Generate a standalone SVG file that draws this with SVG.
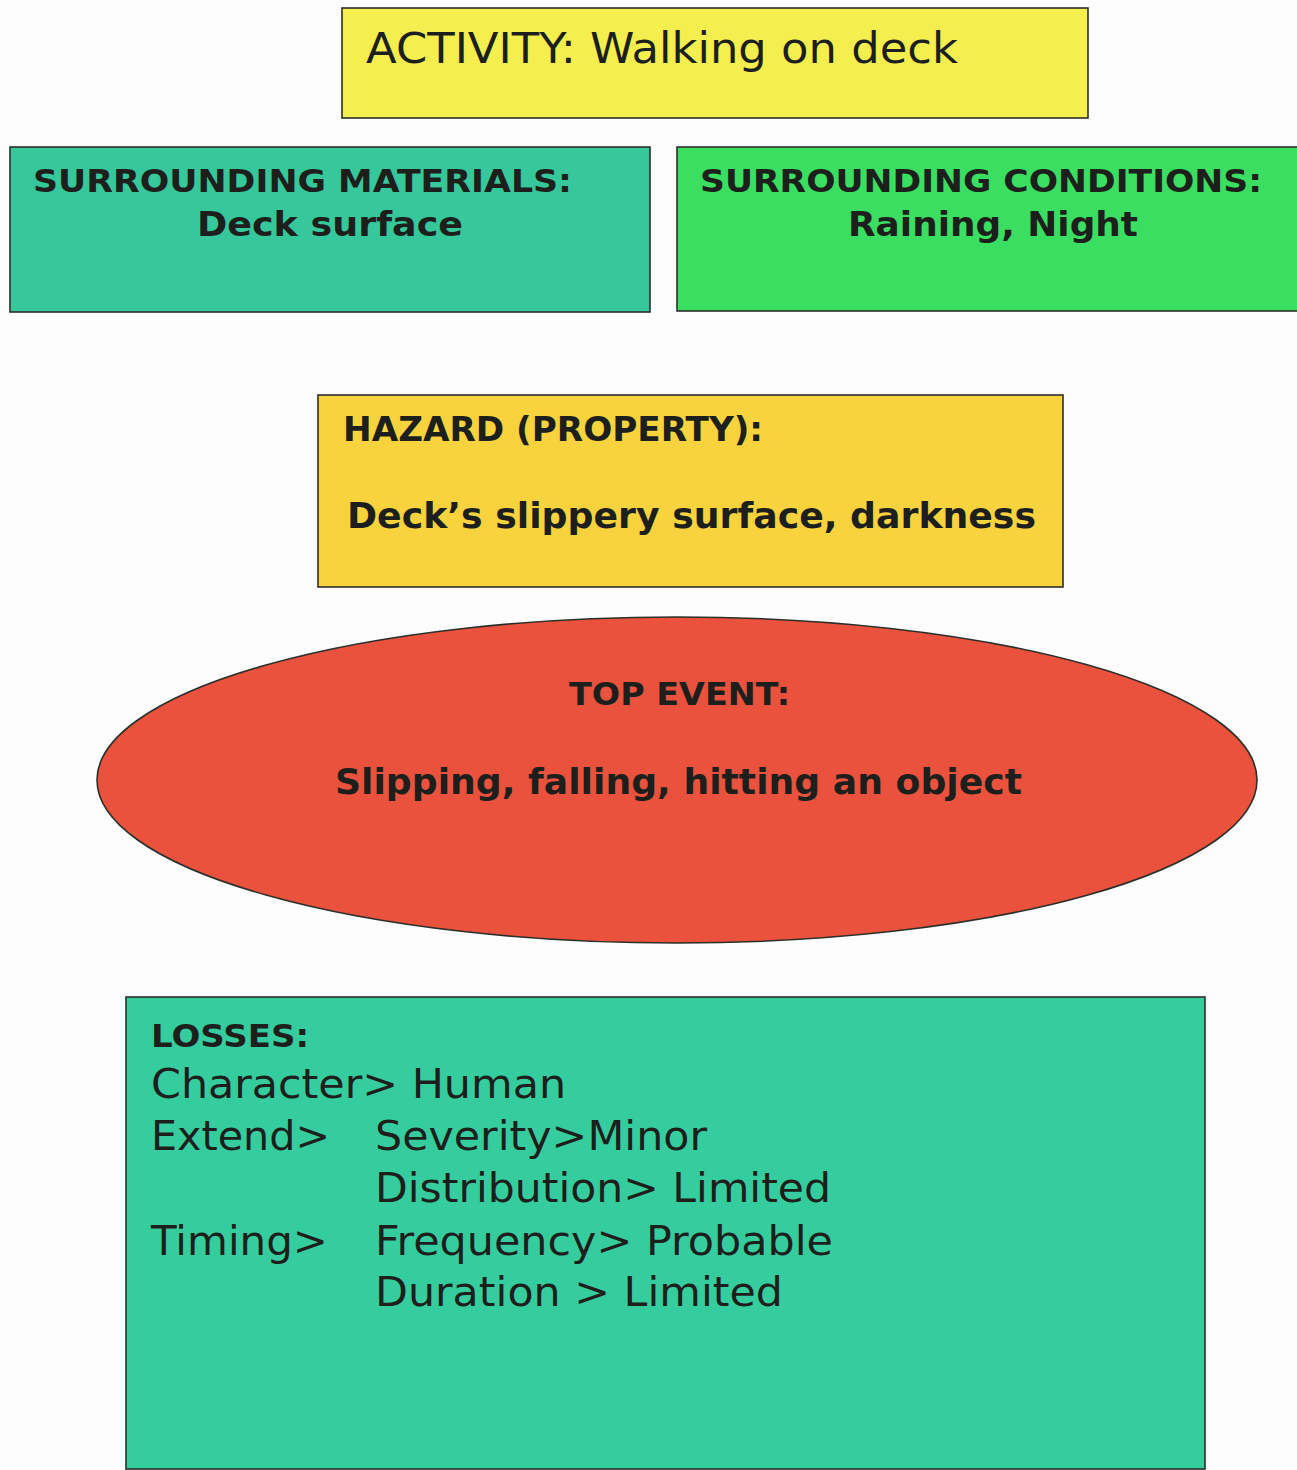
<svg xmlns="http://www.w3.org/2000/svg" width="1297" height="1470" viewBox="0 0 1297 1470">
  <style>
    .box { stroke: #2b2f2a; stroke-width: 1.6; }
    .t { font-family: "DejaVu Sans", "Liberation Sans", sans-serif; fill: #1c1f1c; }
    .b { font-weight: bold; }
    .activity { fill: #f4ef4e; }
    .materials { fill: #36c89b; }
    .conditions { fill: #3ade60; }
    .hazard { fill: #f8d33e; }
    .event { fill: #ea523d; }
    .losses { fill: #36cd9e; }
  </style>
  <rect x="0" y="0" width="1297" height="1470" fill="#fcfdfc"/>

  <!-- activity -->
  <g id="activity">
    <rect class="box activity" x="342" y="8" width="746" height="110"/>
    <text class="t" x="366" y="63" font-size="42" textLength="592" lengthAdjust="spacingAndGlyphs">ACTIVITY: Walking on deck</text>
  </g>

  <!-- surrounding materials -->
  <g id="materials">
    <rect class="box materials" x="10" y="147" width="640" height="165"/>
    <text class="t b" x="33" y="192" font-size="32" textLength="539" lengthAdjust="spacingAndGlyphs">SURROUNDING MATERIALS:</text>
    <text class="t b" x="197" y="236" font-size="34" textLength="266" lengthAdjust="spacingAndGlyphs">Deck surface</text>
  </g>

  <!-- surrounding conditions -->
  <g id="conditions">
    <rect class="box conditions" x="677" y="147" width="640" height="164"/>
    <text class="t b" x="700" y="192" font-size="32" textLength="562" lengthAdjust="spacingAndGlyphs">SURROUNDING CONDITIONS:</text>
    <text class="t b" x="848" y="236" font-size="34" textLength="290" lengthAdjust="spacingAndGlyphs">Raining, Night</text>
  </g>

  <!-- hazard -->
  <g id="hazard">
    <rect class="box hazard" x="318" y="395" width="745" height="192"/>
    <text class="t b" x="343" y="441" font-size="34" textLength="420" lengthAdjust="spacingAndGlyphs">HAZARD (PROPERTY):</text>
    <text class="t b" x="347" y="528" font-size="36" textLength="689" lengthAdjust="spacingAndGlyphs">Deck’s slippery surface, darkness</text>
  </g>

  <!-- top event -->
  <g id="top-event">
    <ellipse class="box event" cx="677" cy="780" rx="580" ry="163"/>
    <text class="t b" x="569" y="705" font-size="32" textLength="221" lengthAdjust="spacingAndGlyphs">TOP EVENT:</text>
    <text class="t b" x="335" y="794" font-size="35" textLength="687" lengthAdjust="spacingAndGlyphs">Slipping, falling, hitting an object</text>
  </g>

  <!-- losses -->
  <g id="losses">
    <rect class="box losses" x="126" y="997" width="1079" height="472"/>
    <text class="t b" x="151" y="1047" font-size="32" textLength="158" lengthAdjust="spacingAndGlyphs">LOSSES:</text>
    <text class="t" x="151" y="1098" font-size="41" textLength="415" lengthAdjust="spacingAndGlyphs">Character&gt; Human</text>
    <text class="t" x="151" y="1150" font-size="41" textLength="179" lengthAdjust="spacingAndGlyphs">Extend&gt;</text>
    <text class="t" x="375" y="1150" font-size="41" textLength="332" lengthAdjust="spacingAndGlyphs">Severity&gt;Minor</text>
    <text class="t" x="375" y="1202" font-size="41" textLength="456" lengthAdjust="spacingAndGlyphs">Distribution&gt; Limited</text>
    <text class="t" x="151" y="1255" font-size="41" textLength="177" lengthAdjust="spacingAndGlyphs">Timing&gt;</text>
    <text class="t" x="375" y="1255" font-size="41" textLength="458" lengthAdjust="spacingAndGlyphs">Frequency&gt; Probable</text>
    <text class="t" x="375" y="1306" font-size="41" textLength="408" lengthAdjust="spacingAndGlyphs">Duration &gt; Limited</text>
  </g>

  <g id="connectors"/>
</svg>
